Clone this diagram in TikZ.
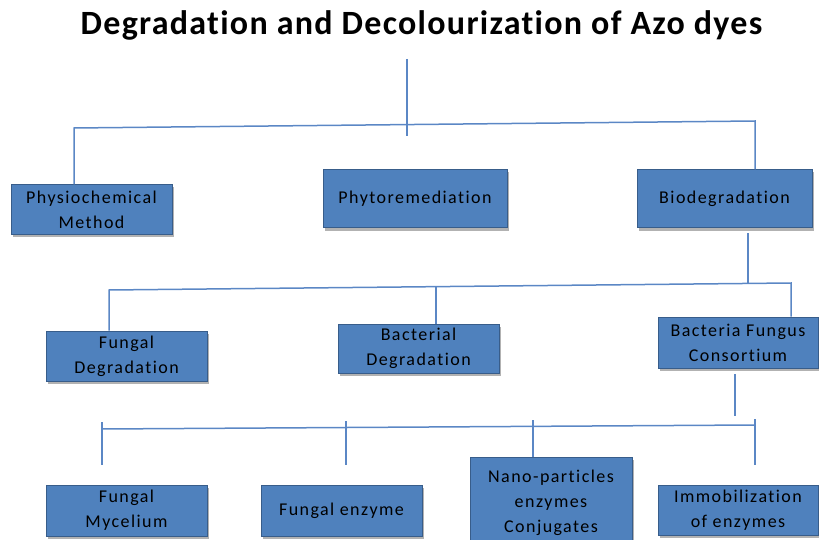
\documentclass[tikz,border=0pt]{standalone}
\usepackage{fontspec}
\setmainfont[Ligatures=NoCommon]{Carlito}
\newfontfamily\boxfont[LetterSpace=8,Ligatures=NoCommon]{Carlito}
\newfontfamily\titlefont[LetterSpace=3.8,Ligatures=NoCommon]{Carlito}
\usetikzlibrary{shadows}
\definecolor{boxfill}{HTML}{4F81BD}
\definecolor{boxdraw}{HTML}{385D8A}
\definecolor{linec}{HTML}{5B87C5}
\begin{document}
\begin{tikzpicture}[x=1pt,y=-1pt,
  box/.style={draw=boxdraw, line width=1pt, fill=boxfill, align=center, inner sep=0pt,
    font=\boxfont\fontsize{18}{25}\selectfont, text=black,
    drop shadow={shadow xshift=2pt, shadow yshift=-2.5pt, opacity=0.3, fill=black}},
  conn/.style={draw=linec, line width=1.5pt}]
\useasboundingbox (0,0) rectangle (819,540);
\clip (0,0) rectangle (819,540);
\node[anchor=base, font=\titlefont\bfseries\fontsize{34}{40}\selectfont] (title) at (421.5,34.5) {Degradation and Decolourization of Azo dyes};
% level 1
\node[box, minimum width=161pt, minimum height=49pt] (phys) at (91.5,209.5) {Physiochemical\\Method};
\node[box, minimum width=184pt, minimum height=58pt] (phyto) at (415,199) {Phytoremediation};
\node[box, minimum width=175pt, minimum height=58pt] (bio) at (724.5,199) {Biodegradation};
% level 2
\node[box, minimum width=161pt, minimum height=50pt] (fung) at (126.5,356) {Fungal\\Degradation};
\node[box, minimum width=161pt, minimum height=49pt] (bact) at (418.5,348.5) {Bacterial\\Degradation};
\node[box, minimum width=160pt, minimum height=51pt] (cons) at (738,342.5) {Bacteria Fungus\\Consortium};
% level 3
\node[box, minimum width=161pt, minimum height=51pt] (myc) at (126.5,510.5) {Fungal\\Mycelium};
\node[box, minimum width=161pt, minimum height=51pt] (enz) at (341.5,510.5) {Fungal enzyme};
\node[box, minimum width=162pt, minimum height=91pt] (nano) at (551,502.5) {Nano-particles\\enzymes\\Conjugates};
\node[box, minimum width=160pt, minimum height=50pt] (immo) at (738,510) {Immobilization\\of enzymes};
% connectors level 1
\coordinate (t1) at (407,59);
\coordinate (t2) at (407,136);
\coordinate (h1l) at (74,128);
\coordinate (h1r) at (755,121);
\draw[conn] (t1) -- (t2);
\draw[conn] (phys.north -| h1l) -- (h1l) -- (h1r) -- (bio.north -| h1r);
% connectors level 2
\coordinate (b1) at (748,233);
\coordinate (b2) at (748,283.5);
\coordinate (h2l) at (109,290);
\coordinate (h2m) at (436,286.5);
\coordinate (h2r) at (791,283);
\draw[conn] (b1) -- (b2);
\draw[conn] (fung.north -| h2l) -- (h2l) -- (h2r) -- (cons.north -| h2r);
\draw[conn] (h2m) -- (bact.north -| h2m);
% connectors level 3
\coordinate (c1) at (735,374);
\coordinate (c2) at (735,416);
\draw[conn] (c1) -- (c2);
\coordinate (h3l) at (102,429);
\coordinate (h3r) at (755,425);
\draw[conn] (h3l) -- (h3r);
\coordinate (v1a) at (102,422); \coordinate (v1b) at (102,465);
\coordinate (v2a) at (346,421); \coordinate (v2b) at (346,465);
\coordinate (v3a) at (533,420);
\coordinate (v4a) at (755,419); \coordinate (v4b) at (755,465);
\draw[conn] (v1a) -- (v1b);
\draw[conn] (v2a) -- (v2b);
\draw[conn] (v3a) -- (nano.north -| v3a);
\draw[conn] (v4a) -- (v4b);
\end{tikzpicture}
\end{document}
